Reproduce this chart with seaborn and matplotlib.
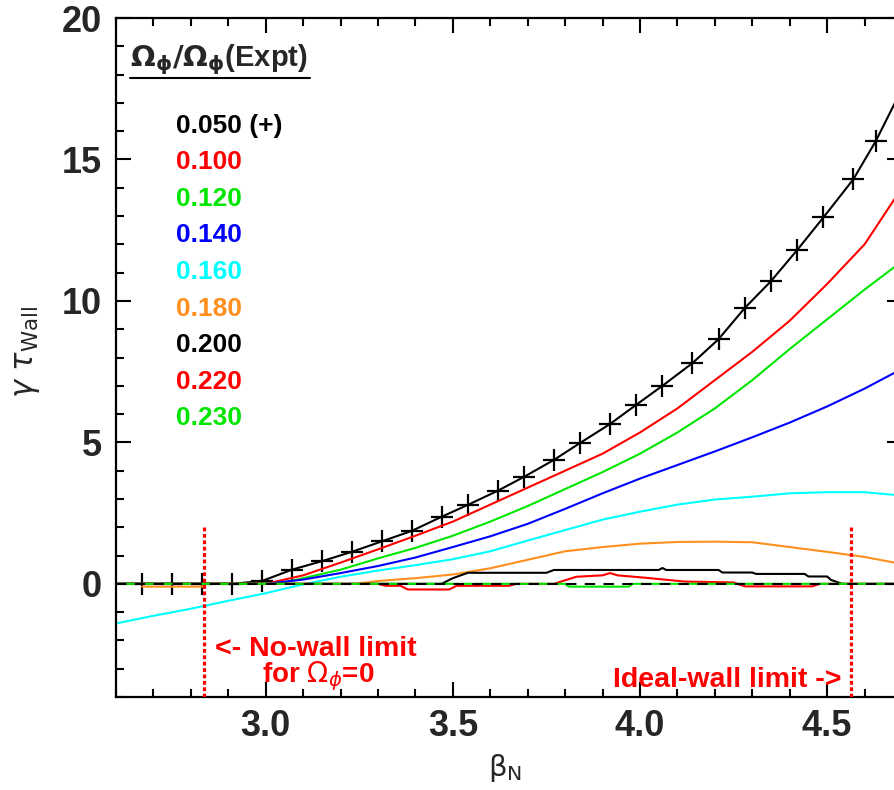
import matplotlib
matplotlib.use("Agg")
import matplotlib.pyplot as plt
from matplotlib.lines import Line2D
from matplotlib.ticker import MultipleLocator
import pandas as pd
import seaborn as sns

# ---- growth rate gamma*tau_wall versus beta_N for several rotation fractions ----
rotation_labels = ["0.050 (+)", "0.100", "0.120", "0.140", "0.160",
                   "0.180", "0.200", "0.220", "0.230"]
curve_colors = ["#000000", "#ff0000", "#00e600", "#0000ff", "#00ffff",
                "#ff8f1f", "#000000", "#ff0000", "#00e600"]

beta_050 = [2.60, 2.67, 2.75, 2.83, 2.91, 2.99, 3.07, 3.15, 3.23, 3.31, 3.39,
            3.47, 3.54, 3.62, 3.69, 3.77, 3.84, 3.92, 3.99, 4.06, 4.14, 4.21,
            4.28, 4.35, 4.42, 4.49, 4.57, 4.63, 4.70]
gamma_050 = [0.0, 0.0, 0.0, 0.0, 0.0, 0.1, 0.5, 0.8, 1.13, 1.5, 1.87,
             2.37, 2.79, 3.29, 3.78, 4.38, 4.98, 5.65, 6.33, 7.0, 7.8, 8.65,
             9.75, 10.7, 11.8, 12.95, 14.3, 15.65, 17.5]

beta_100 = [2.60, 3.00, 3.10, 3.20, 3.30, 3.40, 3.50, 3.60, 3.70, 3.80, 3.90,
            4.00, 4.10, 4.20, 4.30, 4.40, 4.50, 4.60, 4.70]
gamma_100 = [0.0, 0.0, 0.3, 0.75, 1.22, 1.7, 2.2, 2.8, 3.4, 4.0, 4.6,
             5.35, 6.2, 7.2, 8.2, 9.3, 10.6, 12.0, 14.0]

beta_120 = [2.60, 3.00, 3.05, 3.10, 3.20, 3.30, 3.40, 3.50, 3.60, 3.70, 3.80,
            3.90, 4.00, 4.10, 4.20, 4.30, 4.40, 4.50, 4.60, 4.70]
gamma_120 = [0.0, 0.0, 0.05, 0.2, 0.5, 0.9, 1.27, 1.7, 2.2, 2.75, 3.35,
             3.95, 4.6, 5.35, 6.2, 7.2, 8.3, 9.35, 10.4, 11.4]

beta_140 = [2.60, 3.00, 3.10, 3.20, 3.30, 3.40, 3.50, 3.60, 3.70, 3.80, 3.90,
            4.00, 4.10, 4.20, 4.30, 4.40, 4.50, 4.60, 4.70]
gamma_140 = [0.0, 0.0, 0.15, 0.38, 0.63, 0.93, 1.3, 1.68, 2.12, 2.65, 3.2,
             3.72, 4.2, 4.68, 5.18, 5.7, 6.27, 6.9, 7.6]

beta_160 = [2.60, 2.70, 2.80, 2.90, 3.00, 3.10, 3.20, 3.30, 3.40, 3.50, 3.60,
            3.70, 3.80, 3.90, 4.00, 4.10, 4.20, 4.30, 4.40, 4.50, 4.60, 4.70]
gamma_160 = [-1.4, -1.13, -0.88, -0.6, -0.33, -0.02, 0.25, 0.47, 0.66, 0.87,
             1.15, 1.53, 1.9, 2.27, 2.55, 2.8, 2.98, 3.08, 3.2, 3.24, 3.24, 3.12]

beta_180 = [2.67, 2.83, 2.84, 3.24, 3.30, 3.40, 3.50, 3.60, 3.70, 3.80, 3.90,
            4.00, 4.10, 4.20, 4.30, 4.40, 4.50, 4.60, 4.70]
gamma_180 = [-0.1, -0.1, 0.0, 0.0, 0.1, 0.2, 0.33, 0.55, 0.85, 1.15, 1.3,
             1.42, 1.48, 1.49, 1.47, 1.3, 1.13, 0.95, 0.7]

beta_200 = [2.60, 3.47, 3.50, 3.54, 3.75, 3.77, 4.05, 4.06, 4.07, 4.21, 4.22,
            4.30, 4.31, 4.44, 4.45, 4.50, 4.51, 4.54, 4.70]
gamma_200 = [0.0, 0.0, 0.2, 0.39, 0.39, 0.49, 0.49, 0.56, 0.49, 0.49, 0.4,
             0.4, 0.35, 0.35, 0.26, 0.26, 0.14, 0.0, 0.0]

beta_220 = [2.60, 3.30, 3.32, 3.36, 3.38, 3.49, 3.51, 3.65, 3.67, 3.77, 3.83,
            3.90, 3.92, 3.94, 4.01, 4.12, 4.25, 4.28, 4.46, 4.48, 4.70]
gamma_220 = [0.0, 0.0, -0.07, -0.07, -0.2, -0.2, -0.07, -0.07, 0.0, 0.0, 0.25,
             0.3, 0.38, 0.3, 0.22, 0.08, 0.05, -0.09, -0.09, 0.0, 0.0]

beta_230 = [2.60, 3.80, 3.81, 3.97, 3.98, 4.70]
gamma_230 = [0.0, 0.0, -0.1, -0.1, 0.0, 0.0]

curve_betas = [beta_050, beta_100, beta_120, beta_140, beta_160,
               beta_180, beta_200, beta_220, beta_230]
curve_gammas = [gamma_050, gamma_100, gamma_120, gamma_140, gamma_160,
                gamma_180, gamma_200, gamma_220, gamma_230]

no_wall_limit = 2.836
ideal_wall_limit = 4.565
limit_line_top = 2.0

x_ticks = [3.0, 3.5, 4.0, 4.5]
x_tick_labels = ["3.0", "3.5", "4.0", "4.5"]
y_ticks = [0, 5, 10, 15, 20]
y_tick_labels = ["0", "5", "10", "15", "20"]

# ---------------------------------------------------------------------------
sns.set_style("ticks")
plt.rcParams["font.family"] = ["Liberation Sans", "DejaVu Sans"]
plt.rcParams["mathtext.fontset"] = "dejavusans"

W, H = 895, 790
fig = plt.figure(figsize=(W / 100, H / 100), dpi=100)
fig.patch.set_facecolor("white")


def fpos(px, py):
    """Pixel position (from top-left) to figure fraction."""
    return px / W, 1 - py / H


ax_l, ax_r, ax_t, ax_b = 116, 902, 18, 697
ax = fig.add_axes([ax_l / W, 1 - ax_b / H, (ax_r - ax_l) / W, (ax_b - ax_t) / H])
ax.set_facecolor("white")

for i, (bx, gy) in enumerate(zip(curve_betas, curve_gammas)):
    df = pd.DataFrame({"beta": bx, "gamma": gy})
    sns.lineplot(data=df, x="beta", y="gamma", ax=ax, color=curve_colors[i],
                 lw=1.5, estimator=None, sort=False, legend=False, zorder=2)
    if i == 0:
        # plus symbols at the computed points of the lowest-rotation case
        sns.scatterplot(data=df.iloc[1:-1], x="beta", y="gamma", ax=ax,
                        marker="+", s=260, linewidth=1.6, color="black",
                        legend=False, zorder=2)

# zero reference line
ax.axhline(0, color="black", lw=1.5, dashes=(5, 4), zorder=3)

# wall limits
ax.vlines([no_wall_limit, ideal_wall_limit], -4, limit_line_top, colors="#ff0000",
          lw=2.3, linestyles=[(0, (1.2, 0.8))], zorder=4)

ax.set_xlim(2.6, 4.7)
ax.set_ylim(-4, 20)
ax.set_xlabel("")
ax.set_ylabel("")
ax.set_xticks(x_ticks, labels=x_tick_labels, fontsize=26, fontweight="bold")
ax.set_yticks(y_ticks, labels=y_tick_labels, fontsize=26, fontweight="bold")
ax.xaxis.set_minor_locator(MultipleLocator(0.1))
ax.yaxis.set_minor_locator(MultipleLocator(1))
ax.tick_params(which="both", direction="in", top=True, right=True,
               width=1.5, color="black")
ax.tick_params(which="major", length=10.5)
ax.tick_params(which="minor", length=5.5)
ax.tick_params(axis="x", which="major", pad=9)
ax.tick_params(axis="y", which="major", pad=10)
for sp in ax.spines.values():
    sp.set_linewidth(1.6)
    sp.set_color("black")

# axis titles
fig.text(*fpos(505, 776), r"$\mathrm{\beta}_{\rm N}$", fontsize=21, ha="center",
         va="baseline")
fig.text(*fpos(27, 352), r"$\gamma\ \tau_{\rm Wall}$", fontsize=22,
         rotation=90, ha="center", va="center")

# rotation key
fig.text(*fpos(130, 66.5), r"$\mathbf{\Omega_\phi/\Omega_\phi}$(Expt)",
         fontsize=21, fontweight="bold", ha="left", va="baseline")
fig.add_artist(Line2D([130 / W, 310 / W], [1 - 78 / H, 1 - 78 / H],
                      color="black", lw=1.5))
for k, (lab, col) in enumerate(zip(rotation_labels, curve_colors)):
    fig.text(*fpos(176, 132.5 + 36.6 * k), lab, fontsize=19, color=col,
             fontweight="bold", ha="left", va="baseline")

# wall-limit annotations
ax.text(2.865, -2.54, "<- No-wall limit", fontsize=20.5, color="#ff0000",
        fontweight="bold", ha="left", va="baseline")
ax.text(2.99, -3.46, r"for $\Omega_\phi$=0", fontsize=20, color="#ff0000",
        fontweight="bold", ha="left", va="baseline")
ax.text(3.928, -3.64, "Ideal-wall limit ->", fontsize=20.5, color="#ff0000",
        fontweight="bold", ha="left", va="baseline")

fig.savefig("out.png", dpi=100, facecolor="white")
